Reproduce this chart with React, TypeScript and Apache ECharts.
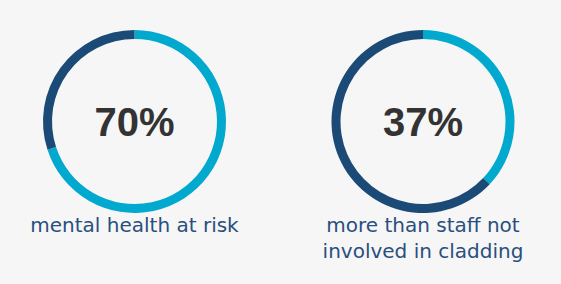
import React, { useEffect, useRef } from "react";
import * as echarts from "echarts";

const values = [70, 37];
const centersX = [134.5, 423];
const captions = ["mental health at risk", "more than staff not\ninvolved in cladding"];
const LIGHT = "#00a9cd";
const DARK = "#1b4a77";

export default function App() {
  const ref = useRef<HTMLDivElement>(null);
  useEffect(() => {
    const chart = echarts.init(ref.current!, null, { renderer: "svg" });
    const series = values.map((v, i) => ({
      type: "pie",
      silent: true,
      center: [centersX[i], 121.5],
      radius: [82.5, 91.5],
      startAngle: 90,
      clockwise: true,
      avoidLabelOverlap: false,
      labelLine: { show: false },
      emphasis: { disabled: true },
      data: [
        {
          value: v,
          itemStyle: { color: LIGHT },
          label: {
            show: true,
            position: "center",
            formatter: `${v}%`,
            fontFamily: "Liberation Sans, Arial, sans-serif",
            fontWeight: "bold",
            fontSize: 40,
            color: "#333333",
          },
        },
        { value: 100 - v, itemStyle: { color: DARK }, label: { show: false } },
      ],
    }));
    chart.setOption({
      animation: false,
      backgroundColor: "#f6f6f6",
      series,
      graphic: captions.map((c, i) => ({
        type: "text",
        x: centersX[i],
        y: 212,
        style: {
          text: c,
          textAlign: "center",
          textVerticalAlign: "top",
          fontFamily: "DejaVu Sans, Verdana, sans-serif",
          fontSize: 20,
          lineHeight: 26,
          fill: "#2a4f7e",
        },
      })),
    });
    return () => chart.dispose();
  }, []);
  return (
    <div
      ref={ref}
      style={{ position: "absolute", left: 0, top: 0, width: 561, height: 284 }}
    />
  );
}
